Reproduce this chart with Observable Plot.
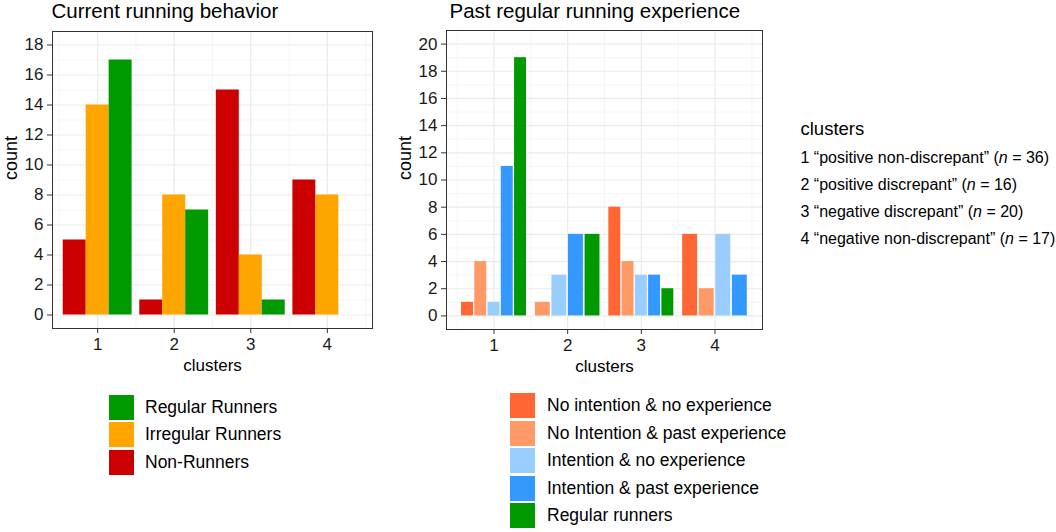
<!DOCTYPE html>
<html><head><meta charset="utf-8">
<script src="https://cdn.jsdelivr.net/npm/d3@7"></script>
<script src="https://cdn.jsdelivr.net/npm/@observablehq/plot@0.6"></script>
<style>
body{margin:0;background:#fff;font-family:"Liberation Sans",Arial,Helvetica,sans-serif;}
#root{position:relative;width:1056px;height:532px;overflow:hidden;background:#fff;}
.abs{position:absolute;white-space:nowrap;color:#000;}
.chart{position:absolute;top:0;}
.key{position:absolute;width:25px;height:25px;}
</style></head><body><div id="root"></div>
<script>
// ---------- data ----------
const clusters = [1, 2, 3, 4];
const clusterNames = ["positive non-discrepant", "positive discrepant", "negative discrepant", "negative non-discrepant"];
const clusterN = [36, 16, 20, 17];

const behaviorGroups = ["Non-Runners", "Irregular Runners", "Regular Runners"];
const behaviorColors = ["#CC0000", "#FFA500", "#009900"];
const nonRunners = [5, 1, 15, 9];
const irregularRunners = [14, 8, 4, 8];
const regularRunners = [17, 7, 1, null];

const experienceGroups = ["No intention & no experience", "No Intention & past experience", "Intention & no experience", "Intention & past experience", "Regular runners"];
const experienceColors = ["#FF6633", "#FF9966", "#99CCFF", "#3399FF", "#009900"];
const noIntentionNoExp = [1, null, 8, 6];
const noIntentionPastExp = [4, 1, 4, 2];
const intentionNoExp = [1, 3, 3, 6];
const intentionPastExp = [11, 6, 3, 3];
const regularRunnersPast = [19, 6, 2, null];

const titles = ["Current running behavior", "Past regular running experience"];
const yTicksLeft = [0, 2, 4, 6, 8, 10, 12, 14, 16, 18];
const yTicksRight = [0, 2, 4, 6, 8, 10, 12, 14, 16, 18, 20];

// ---------- tables (dodge layout like ggplot) ----------
const behaviorSeries = [nonRunners, irregularRunners, regularRunners];
const behaviorData = [];
clusters.forEach((c, i) => {
  behaviorSeries.forEach((s, g) => {
    if (s[i] == null) return;
    const w = 0.9 / behaviorSeries.length; // preserve = "single"
    behaviorData.push({cluster: c, group: behaviorGroups[g], count: s[i],
      x1: c - 0.45 + g * w, x2: c - 0.45 + (g + 1) * w});
  });
});

const experienceSeries = [noIntentionNoExp, noIntentionPastExp, intentionNoExp, intentionPastExp, regularRunnersPast];
const experienceData = [];
clusters.forEach((c, i) => {
  const present = experienceSeries.map((s, g) => [s[i], g]).filter(d => d[0] != null);
  const w = 0.9 / present.length; // dodge2 with padding 0.1
  present.forEach(([v, g], k) => {
    experienceData.push({cluster: c, group: experienceGroups[g], count: v,
      x1: c - 0.45 + k * w + w * 0.05, x2: c - 0.45 + k * w + w * 0.95});
  });
});

// ---------- chart builder ----------
function panel({data, groups, colors, yDomain, yTicks, xDomain, marginLeft, marginTop, marginBottom}) {
  const minorY = yTicks.slice(0, -1).map(t => t + 1).concat([yTicks[yTicks.length - 1] + 1]).filter(t => t < yDomain[1]);
  const minorX = [0.5, 1.5, 2.5, 3.5, 4.5];
  return Plot.plot({
    width: 380, height: 380,
    marginLeft, marginRight: 8, marginTop, marginBottom,
    style: {fontFamily: "'Liberation Sans', Arial, sans-serif", color: "#1a1a1a", background: "white"},
    x: {domain: xDomain},
    y: {domain: yDomain},
    color: {domain: groups, range: colors},
    marks: [
      Plot.ruleY(minorY, {stroke: "#F2F2F2", strokeWidth: 0.7}),
      Plot.ruleX(minorX, {stroke: "#F2F2F2", strokeWidth: 0.7}),
      Plot.ruleY(yTicks, {stroke: "#EBEBEB", strokeWidth: 1.2}),
      Plot.ruleX(clusters, {stroke: "#EBEBEB", strokeWidth: 1.2}),
      Plot.rect(data, {x1: "x1", x2: "x2", y1: 0, y2: "count", fill: "group"}),
      Plot.frame({stroke: "#333", strokeWidth: 1}),
      Plot.axisY({ticks: yTicks, tickSize: 5, tickPadding: 4, fontSize: 17, label: null, stroke: "#333"}),
      Plot.axisX({ticks: clusters, tickSize: 5, tickPadding: 4, fontSize: 17, label: null, tickFormat: d => String(d), stroke: "#333"}),
      Plot.text(["count"], {text: d => d, frameAnchor: "left", dx: -41, rotate: -90, fontSize: 18, fill: "#000"}),
      Plot.text(["clusters"], {text: d => d, frameAnchor: "bottom", dy: 42, fontSize: 17, fill: "#000"})
    ]
  });
}

const root = document.getElementById("root");

const left = panel({data: behaviorData, groups: behaviorGroups, colors: behaviorColors,
  yDomain: [-0.9, 18.9], yTicks: yTicksLeft, xDomain: [0.41, 4.59],
  marginLeft: 52, marginTop: 31, marginBottom: 52});
left.classList.add("chart"); left.style.left = "0px";
root.appendChild(left);

const right = panel({data: experienceData, groups: experienceGroups, colors: experienceColors,
  yDomain: [-1, 21], yTicks: yTicksRight, xDomain: [0.355, 4.645],
  marginLeft: 56, marginTop: 30, marginBottom: 51});
right.classList.add("chart"); right.style.left = "390px";
root.appendChild(right);

// ---------- html texts ----------
function addText(html, x, cy, fs, extra = "") {
  const d = document.createElement("div");
  d.className = "abs";
  const h = Math.round(fs * 1.4);
  d.style.cssText = `left:${x}px;top:${cy - h / 2}px;height:${h}px;line-height:${h}px;font-size:${fs}px;${extra}`;
  d.innerHTML = html;
  root.appendChild(d);
}
addText(titles[0], 51.5, 10.7, 20.5);
addText(titles[1], 449.5, 10.7, 20.5);

// legend 1 (reversed order, as drawn)
const pitch = 27.4;
[2, 1, 0].forEach((g, r) => {
  const k = document.createElement("div");
  k.className = "key";
  k.style.cssText = `left:109px;top:${395 + r * pitch}px;background:${behaviorColors[g]};`;
  root.appendChild(k);
  addText(behaviorGroups[g], 145, 395 + r * pitch + 12.5, 17.5);
});
// legend 2
experienceGroups.forEach((name, g) => {
  const k = document.createElement("div");
  k.className = "key";
  k.style.cssText = `left:510px;top:${393.3 + g * pitch}px;background:${experienceColors[g]};`;
  root.appendChild(k);
  addText(name, 547, 393.3 + g * pitch + 12.5, 17.5);
});
// clusters legend
addText("clusters", 800.5, 129, 18.5);
clusters.forEach((c, i) => {
  addText(`${c} “${clusterNames[i]}” (<i>n</i> = ${clusterN[i]})`, 800.5, 157.5 + i * 27.3, 16);
});
</script></body></html>
